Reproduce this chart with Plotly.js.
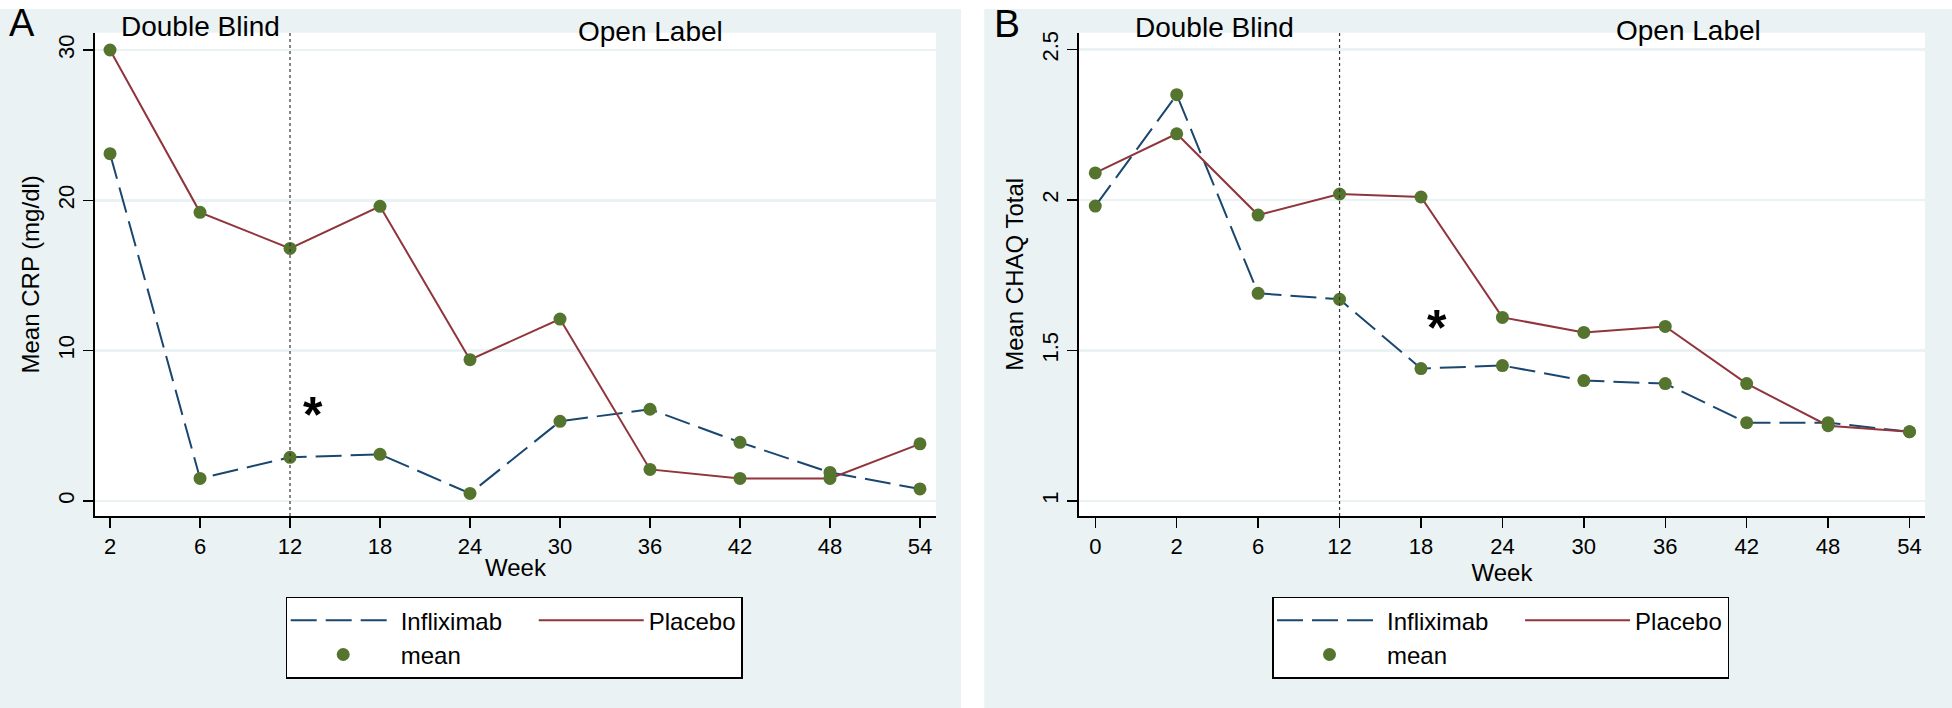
<!DOCTYPE html>
<html>
<head>
<meta charset="utf-8">
<script src="https://cdn.plot.ly/plotly-3.0.1.min.js"></script>
<style>html,body{margin:0;padding:0;background:#fff;}#chart{width:1952px;height:708px;}</style>
</head>
<body>
<div id="chart"></div>
<script>
// Panel A: Mean CRP (mg/dl)
var weeksA = ['2','6','12','18','24','30','36','42','48','54'];
var inflixCRP = [23.1, 1.5, 2.9, 3.1, 0.5, 5.3, 6.1, 3.9, 1.9, 0.8];
var placeboCRP = [30.0, 19.2, 16.8, 19.6, 9.4, 12.1, 2.1, 1.5, 1.5, 3.8];

// Panel B: Mean CHAQ Total
var weeksB = ['0','2','6','12','18','24','30','36','42','48','54'];
var inflixCHAQ = [1.98, 2.35, 1.69, 1.67, 1.44, 1.45, 1.40, 1.39, 1.26, 1.26, 1.23];
var placeboCHAQ = [2.09, 2.22, 1.95, 2.02, 2.01, 1.61, 1.56, 1.58, 1.39, 1.25, 1.23];

var seriesNames = ['Infliximab', 'Placebo', 'mean'];
var phaseLabels = ['Double Blind', 'Open Label'];
var yTicksA = [0, 10, 20, 30];
var yTicksB = [1, 1.5, 2, 2.5];

var NAVY = '#1A476F', MAROON = '#90353B', GREEN = '#55752F', BG = '#EAF2F3';
var W = 1952, H = 708;
var PAD = '\u00A0\u00A0\u00A0\u00A0'; // spacing after first legend column

function panelTraces(weeks, inf, pla, xa, ya, leg) {
  return [
    {x: weeks, y: inf, mode: 'lines', name: seriesNames[0] + PAD, xaxis: xa, yaxis: ya,
     line: {color: NAVY, width: 2, dash: '26px,9px'}, legend: leg, legendgroup: leg + 'g1', hoverinfo: 'skip'},
    {x: weeks, y: pla, mode: 'lines', name: seriesNames[1], xaxis: xa, yaxis: ya,
     line: {color: MAROON, width: 2}, legend: leg, legendgroup: leg + 'g2', hoverinfo: 'skip'},
    {x: weeks.concat(weeks), y: inf.concat(pla), mode: 'markers', name: seriesNames[2], xaxis: xa, yaxis: ya,
     marker: {color: GREEN, size: 13}, legend: leg, legendgroup: leg + 'g1', hoverinfo: 'skip'}
  ];
}

var data = panelTraces(weeksA, inflixCRP, placeboCRP, 'x', 'y', 'legend')
  .concat(panelTraces(weeksB, inflixCHAQ, placeboCHAQ, 'x2', 'y2', 'legend2'));

var yDom = [1 - 516 / H, 1 - 32.7 / H];

function xAxis(dom, rng, anchor) {
  return {domain: dom, range: rng, type: 'category', anchor: anchor,
    showgrid: false, zeroline: false, showline: true, linecolor: '#000', linewidth: 2,
    ticks: 'outside', ticklen: 10, tickwidth: 1.5, tickcolor: '#000',
    tickfont: {size: 22, color: '#000'},
    title: {text: 'Week', font: {size: 24, color: '#000'}, standoff: 1}};
}
function yAxis(rng, tv, title, anchor) {
  return {domain: yDom, range: rng, anchor: anchor, tickvals: tv, tickangle: -90,
    showgrid: true, gridcolor: BG, gridwidth: 2.5, zeroline: false,
    showline: true, linecolor: '#000', linewidth: 2,
    ticks: 'outside', ticklen: 10, tickwidth: 1.5, tickcolor: '#000',
    tickfont: {size: 22, color: '#000'},
    title: {text: title, font: {size: 24, color: '#000'}, standoff: 8}};
}

function legendCfg(x) {
  return {x: x, y: 1 - 596.7 / H, xanchor: 'left', yanchor: 'top', orientation: 'h',
    traceorder: 'grouped', bgcolor: '#fff', bordercolor: '#000', borderwidth: 1.5,
    font: {size: 24, color: '#000'}, itemwidth: 105};
}

var annFont = {family: 'Liberation Sans, Arial', size: 28, color: '#000'};
var starFont = {family: 'Liberation Sans, Arial', size: 50, color: '#000', weight: 'bold'};

function phaseAnn(xref, x, ypx, text) {
  return {xref: xref, yref: 'paper', x: x, y: 1 - ypx / H, text: text, showarrow: false,
    xanchor: 'center', yanchor: 'middle', font: annFont};
}

var layout = {
  width: W, height: H,
  margin: {l: 0, r: 0, t: 0, b: 0},
  paper_bgcolor: BG, plot_bgcolor: '#fff',
  font: {family: 'Liberation Sans, Arial, sans-serif', color: '#000'},
  showlegend: true,
  xaxis: xAxis([95 / W, 936 / W], [-0.167, 9.178], 'y'),
  yaxis: yAxis([-1.0, 31.15], yTicksA, 'Mean CRP (mg/dl)', 'x'),
  xaxis2: xAxis([1079 / W, 1925 / W], [-0.2, 10.19], 'y2'),
  yaxis2: yAxis([0.95, 2.556], yTicksB, 'Mean CHAQ Total', 'x2'),
  legend: legendCfg(285.7 / W),
  legend2: legendCfg(1272 / W),
  shapes: [
    {type: 'rect', xref: 'paper', yref: 'paper', x0: 0, x1: 1, y0: 1 - 9 / H, y1: 1, fillcolor: '#fff', line: {width: 0}, layer: 'below'},
    {type: 'rect', xref: 'paper', yref: 'paper', x0: 961 / W, x1: 984.3 / W, y0: 0, y1: 1, fillcolor: '#fff', line: {width: 0}, layer: 'below'},
    {type: 'line', xref: 'x', yref: 'y domain', x0: weeksA.indexOf('12'), x1: weeksA.indexOf('12'), y0: 0, y1: 1,
     line: {color: '#333', width: 1.2, dash: 'dot'}},
    {type: 'line', xref: 'x2', yref: 'y2 domain', x0: weeksB.indexOf('12'), x1: weeksB.indexOf('12'), y0: 0, y1: 1,
     line: {color: '#333', width: 1.2, dash: 'dot'}}
  ],
  annotations: [
    {xref: 'paper', yref: 'paper', x: 22 / W, y: 1 - 23.5 / H, text: 'A', showarrow: false, xanchor: 'center', yanchor: 'middle',
     font: {family: 'Liberation Sans, Arial', size: 38, color: '#000'}},
    {xref: 'paper', yref: 'paper', x: 1007 / W, y: 1 - 23.5 / H, text: 'B', showarrow: false, xanchor: 'center', yanchor: 'middle',
     font: {family: 'Liberation Sans, Arial', size: 39, color: '#000'}},
    phaseAnn('x', 1, 26.2, phaseLabels[0]),
    phaseAnn('x', 6, 31.2, phaseLabels[1]),
    phaseAnn('x2', 1.47, 27, phaseLabels[0]),
    phaseAnn('x2', 7.29, 30.5, phaseLabels[1]),
    {xref: 'x', yref: 'y', x: 2.26, y: 6.3, text: '*', showarrow: false, yanchor: 'middle', yshift: -9, font: starFont},
    {xref: 'x2', yref: 'y2', x: 4.2, y: 1.604, text: '*', showarrow: false, yanchor: 'middle', yshift: -9, font: starFont}
  ]
};

Plotly.newPlot('chart', data, layout, {staticPlot: true, displayModeBar: false});
</script>
</body>
</html>
